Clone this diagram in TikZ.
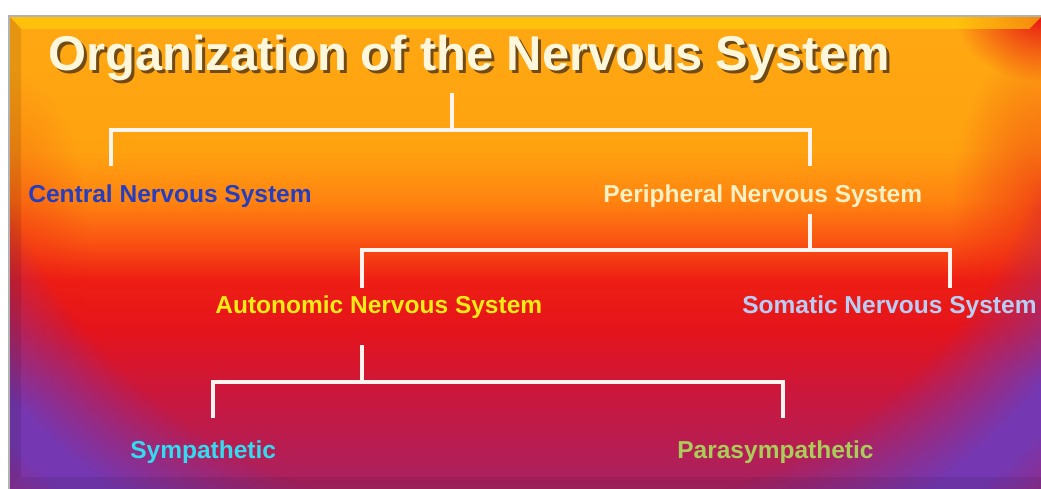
\documentclass[tikz,border=0pt]{standalone}
\usepackage{fontspec}
\setmainfont{Liberation Sans}
\usetikzlibrary{calc,fadings}
\definecolor{v0}{RGB}{168,34,98}
\definecolor{v1}{RGB}{200,24,64}
\definecolor{v2}{RGB}{228,20,28}
\definecolor{v3}{RGB}{238,30,20}
\definecolor{v4}{RGB}{250,85,18}
\definecolor{v5}{RGB}{255,132,16}
\definecolor{v6}{RGB}{255,162,16}
\definecolor{v7}{RGB}{255,168,18}
\definecolor{ringc}{RGB}{118,56,178}
\definecolor{redc}{RGB}{232,22,22}
\definecolor{titlec}{RGB}{255,247,220}
\definecolor{shadowc}{RGB}{90,58,20}
\definecolor{linec}{RGB}{255,244,240}
\definecolor{cnsc}{RGB}{38,62,190}
\definecolor{pnsc}{RGB}{255,240,195}
\definecolor{ansc}{RGB}{255,236,20}
\definecolor{snsc}{RGB}{185,205,245}
\definecolor{symc}{RGB}{50,220,240}
\definecolor{parc}{RGB}{170,205,90}
\pgfdeclareverticalshading{slidebase}{100bp}{%
color(0bp)=(v0); color(25bp)=(v0); color(34.4bp)=(v1); color(41.8bp)=(v2);
color(47.1bp)=(v3); color(51.3bp)=(v4); color(55.5bp)=(v5); color(60.8bp)=(v6);
color(75bp)=(v7); color(100bp)=(v7)}
\pgfdeclareradialshading{ringsh}{\pgfpointorigin}{%
color(0bp)=(black); color(10.3bp)=(black); color(12.4bp)=(white);
color(13bp)=(white); color(15bp)=(black); color(50bp)=(black)}
\pgfdeclarefading{ringfade}{\pgfuseshading{ringsh}}
\pgfdeclareradialshading{blobsh}{\pgfpointorigin}{%
color(0bp)=(white); color(25bp)=(black); color(50bp)=(black)}
\pgfdeclarefading{blobfade}{\pgfuseshading{blobsh}}
\begin{document}
\begin{tikzpicture}[x=0.02cm,y=-0.02cm,
  lbl/.style={anchor=base west, inner sep=0pt, font=\fontsize{13.95}{16}\selectfont\bfseries},
  titletext/.style={anchor=base west, inner sep=0pt, font=\fontsize{27.8}{32}\selectfont\bfseries},
  conn/.style={draw=linec, line width=0.08cm, line join=miter}]
\useasboundingbox (0,0) rectangle (1041,489);
\fill[white] (0,0) rectangle (1041,489);
% slide background
\begin{scope}
  \clip (9,16) rectangle (1041,489);
  \shade[shading=slidebase] (9,16) rectangle (1041,489);
  \fill[ringc, path fading=ringfade, fit fading=true] (520,60) ellipse [x radius=25.8cm, y radius=22.4cm];
  \fill[redc, path fading=blobfade, fit fading=true] (1041,16) ellipse [x radius=1.7cm, y radius=1.3cm];
  \fill[redc, opacity=0.55, path fading=blobfade, fit fading=true] (1041,210) ellipse [x radius=1.8cm, y radius=3.4cm];
  \fill[redc, opacity=0.35, path fading=blobfade, fit fading=true] (9,240) ellipse [x radius=1.6cm, y radius=3.4cm];
  \fill[v7!50!yellow, opacity=0.6] (10,17) -- (1041,17) -- (1029,29) -- (22,29) -- cycle;
  \fill[black, opacity=0.10] (9,16) -- (21,29) -- (21,477) -- (9,489) -- cycle;
  \fill[black, opacity=0.08] (9,489) -- (21,477) -- (1041,477) -- (1041,489) -- cycle;
\end{scope}
\draw[gray!60, line width=0.6] (9,489) -- (9,16) -- (1041,16);
% title
\node[titletext, text=shadowc, opacity=0.85] (titleshadow) at (51,74) {Organization of the Nervous System};
\node[titletext, text=titlec] (title) at (48,71) {Organization of the Nervous System};
% labels
\node[lbl,text=cnsc] (cns) at (28,203) {Central Nervous System};
\node[lbl,text=pnsc] (pns) at (603,203) {Peripheral Nervous System};
\node[lbl,text=ansc] (ans) at (215,314) {Autonomic Nervous System};
\node[lbl,text=snsc] (sns) at (742,314) {Somatic Nervous System};
\node[lbl,text=symc] (sym) at (130,458) {Sympathetic};
\node[lbl,text=parc] (par) at (677,458) {Parasympathetic};
% connector anchor points
\coordinate (tStub) at (452,93);
\coordinate (tJ) at (452,130);
\coordinate (cnsTop) at (111,166);
\coordinate (pnsTop) at (810,166);
\coordinate (pnsStub) at (810,214);
\coordinate (pnsJ) at (810,250);
\coordinate (ansTop) at (362,288);
\coordinate (snsTop) at (950,288);
\coordinate (ansStub) at (362,345);
\coordinate (ansJ) at (362,382);
\coordinate (symTop) at (213,418);
\coordinate (parTop) at (783,418);
% connectors
\draw[conn] (tStub) -- (tJ);
\draw[conn] (cnsTop) -- (cnsTop |- tJ) -- (pnsTop |- tJ) -- (pnsTop);
\draw[conn] (pnsStub) -- (pnsJ);
\draw[conn] (ansTop) -- (ansTop |- pnsJ) -- (snsTop |- pnsJ) -- (snsTop);
\draw[conn] (ansStub) -- (ansJ);
\draw[conn] (symTop) -- (symTop |- ansJ) -- (parTop |- ansJ) -- (parTop);
\end{tikzpicture}
\end{document}
